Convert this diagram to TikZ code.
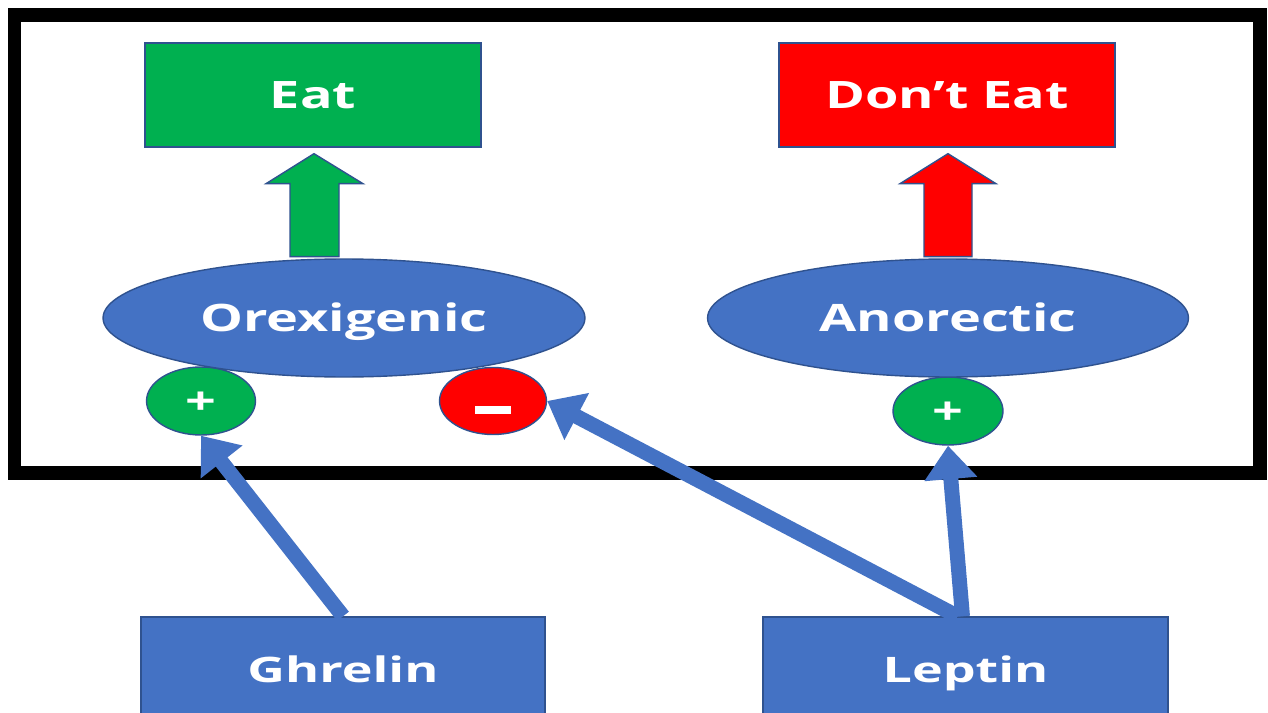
\documentclass[tikz,border=0pt]{standalone}
\usepackage{fontspec}
\setmainfont{Open Sans}
\usepackage{graphicx}
\usetikzlibrary{shapes.geometric,arrows.meta,calc}
\definecolor{bblue}{HTML}{4472C4}
\definecolor{bedge}{HTML}{2F528F}
\definecolor{bgreen}{HTML}{00B050}
\definecolor{bred}{HTML}{FF0000}
\newcommand\wide[1]{\scalebox{1.43}[1]{#1}}
\begin{document}
\begin{tikzpicture}[x=0.02cm,y=-0.02cm,
  lbl/.style={text=white,font=\fontsize{21.5}{24}\selectfont\bfseries,text height=15.4pt,text depth=0pt},
  sq/.style={rectangle,draw=bedge,line width=0.8pt,inner sep=0pt,lbl},
  ov/.style={ellipse,draw=bedge,line width=0.8pt,inner sep=0pt,lbl},
  small/.style={font=\fontsize{20}{24}\selectfont\bfseries,text height=14.3pt},
  link/.style={draw=bblue,line width=8.5pt,-{Triangle[length=19pt,width=29pt]}},
  block/.style={draw=bedge,line width=0.8pt}]
\clip (0,0) rectangle (1268,713);
\fill[white] (0,0) rectangle (1268,713);
\draw[line width=0.28cm] (14.5,15.5) rectangle (1260,473);
% top boxes
\node[sq,fill=bgreen,minimum width=6.72cm,minimum height=2.08cm] (eat) at (313,95) {\wide{Eat}};
\node[sq,fill=bred,minimum width=6.72cm,minimum height=2.08cm] (donteat) at (947,95) {\wide{Don’t Eat}};
% block arrows
\draw[block,fill=bgreen] (eat.south) ++(-23,109) -- ++(0,-73) -- ++(-24,0) -- ++(48,-30) -- ++(49,30) -- ++(-24,0) -- ++(0,73) -- cycle;
\draw[block,fill=bred] (donteat.south) ++(-23,109) -- ++(0,-73) -- ++(-24,0) -- ++(48,-30) -- ++(48,30) -- ++(-24,0) -- ++(0,73) -- cycle;
% circles
\node[ov,fill=bgreen,minimum width=2.18cm,minimum height=1.36cm] (p1) at (201,401) {\wide{+}};
\node[ov,fill=bred,minimum width=2.14cm,minimum height=1.34cm] (m1) at (493,401) {};
\fill[white] ($(m1)+(-18,5)$) rectangle ($(m1)+(18,13)$);
\node[ov,fill=bgreen,minimum width=2.2cm,minimum height=1.36cm] (p2) at (948,411) {\wide{+}};
% ellipses
\node[ov,fill=bblue,minimum width=9.64cm,minimum height=2.36cm] (orex) at (344,318) {\wide{Orexigenic}};
\node[ov,fill=bblue,minimum width=9.62cm,minimum height=2.36cm] (anor) at (948,318) {\wide{Anorectic}};
% bottom boxes
\node[sq,small,fill=bblue,minimum width=8.08cm,minimum height=2.12cm] (ghrelin) at (343,670) {\scalebox{1.48}[1]{Ghrelin}};
\node[sq,small,fill=bblue,minimum width=8.1cm,minimum height=2.12cm] (leptin) at (965.5,670) {\scalebox{1.48}[1]{Leptin}};
% links
\draw[link] (ghrelin.north) -- (p1.south);
\draw[link] ($(leptin.north)+(-8,0)$) -- (m1.east);
\draw[link] ($(leptin.north)+(-3,0)$) -- (p2.south);
\end{tikzpicture}
\end{document}
